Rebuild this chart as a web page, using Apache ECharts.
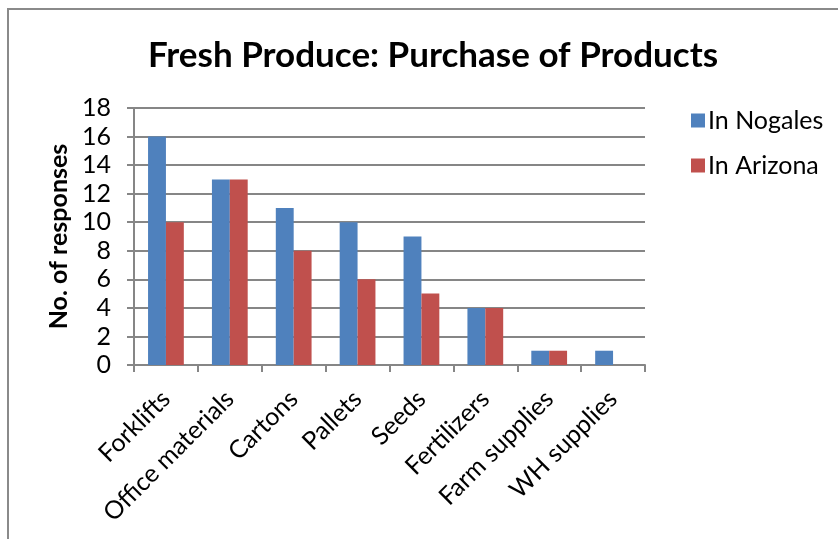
<!DOCTYPE html>
<html>
<head>
<meta charset="utf-8">
<script src="https://cdn.jsdelivr.net/npm/echarts@6/dist/echarts.min.js"></script>
<style>
  html, body { margin: 0; padding: 0; background: #fff; }
  #chart { width: 838px; height: 539px; }
</style>
</head>
<body>
<div id="chart"></div>
<script>
// Product categories and response counts per location
const categories = ['Forklifts', 'Office materials', 'Cartons', 'Pallets', 'Seeds', 'Fertilizers', 'Farm supplies', 'WH supplies'];
const nogales = [16, 13, 11, 10, 9, 4, 1, 1];
const arizona = [10, 13, 8, 6, 5, 4, 1, 0];
const yTicks = { min: 0, max: 18, interval: 2 };

const FONT = 'Lato, "Open Sans", sans-serif';
const chart = echarts.init(document.getElementById('chart'));

chart.setOption({
  animation: false,
  textStyle: { fontFamily: FONT },
  title: {
    text: 'Fresh Produce: Purchase of Products',
    left: 428, top: 33, textAlign: 'center',
    textStyle: { fontSize: 35, fontWeight: 'bold', color: '#000', fontFamily: FONT }
  },
  graphic: [
    { type: 'polyline', shape: { points: [[8, 545], [8, 9], [845, 9]] },
      style: { stroke: '#8a8a8a', lineWidth: 2, fill: null } }
  ],
  legend: {
    orient: 'vertical', left: 686, top: 103, itemGap: 20,
    itemWidth: 14, itemHeight: 14,
    textStyle: { fontSize: 25, color: '#000', fontFamily: FONT, padding: [0, 0, 0, -2] },
    data: [
      { name: 'In Nogales', icon: 'rect' },
      { name: 'In Arizona', icon: 'rect' }
    ]
  },
  grid: { left: 134, right: 193, top: 108, bottom: 174 },
  xAxis: {
    type: 'category', data: categories,
    axisLine: { lineStyle: { color: '#868686', width: 2 } },
    axisTick: { show: true, length: 7, lineStyle: { color: '#868686', width: 2 } },
    axisLabel: { rotate: 45, interval: 0, fontSize: 25, color: '#000', margin: 30, fontFamily: FONT }
  },
  yAxis: {
    type: 'value', min: yTicks.min, max: yTicks.max, interval: yTicks.interval,
    name: 'No. of responses', nameLocation: 'middle', nameGap: 60,
    nameTextStyle: { fontSize: 25, fontWeight: 'bold', color: '#000', fontFamily: FONT },
    axisLine: { show: true, lineStyle: { color: '#868686', width: 2 } },
    axisTick: { show: true, length: 7, lineStyle: { color: '#868686', width: 2 } },
    axisLabel: { fontSize: 25, color: '#000', margin: 23, fontFamily: FONT },
    splitLine: { lineStyle: { color: '#868686', width: 2 } }
  },
  series: [
    { name: 'In Nogales', type: 'bar', data: nogales, barGap: '0%', barCategoryGap: '44%',
      itemStyle: { color: '#4F81BD' } },
    { name: 'In Arizona', type: 'bar', data: arizona,
      itemStyle: { color: '#C0504D' } }
  ]
});
</script>
</body>
</html>
